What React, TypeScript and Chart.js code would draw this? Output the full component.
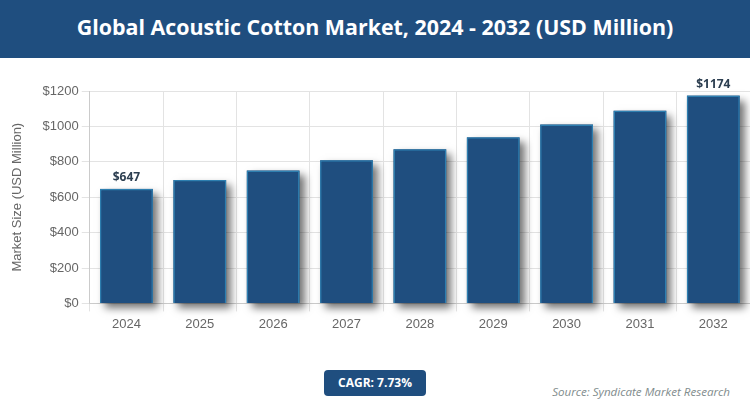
import React, { useEffect, useRef } from 'react';
import { Chart, ChartConfiguration, registerables } from 'chart.js';

Chart.register(...registerables);

const years = ['2024', '2025', '2026', '2027', '2028', '2029', '2030', '2031', '2032'];
const marketSize = [647, 697, 751, 809, 871, 938, 1011, 1089, 1174];
const labelledYears = ['2024', '2032'];

const NAVY = '#1f4e7f';

// the bar element clips to its own box, so the shadow is painted underneath it
const barShadow = {
  id: 'barShadow',
  beforeDatasetDraw(chart: Chart) {
    const ctx = chart.ctx;
    ctx.save();
    ctx.shadowColor = 'rgba(0,0,0,0.55)';
    ctx.shadowBlur = 8;
    ctx.shadowOffsetX = 5;
    ctx.shadowOffsetY = 5;
    ctx.fillStyle = NAVY;
    chart.getDatasetMeta(0).data.forEach((el) => {
      const { x, y, base, width } = el.getProps(['x', 'y', 'base', 'width'], true) as any;
      ctx.fillRect(x - width / 2, y, width, base - y);
    });
    ctx.restore();
  },
};

const endLabels = {
  id: 'endLabels',
  afterDatasetsDraw(chart: Chart) {
    const ctx = chart.ctx;
    const bars = chart.getDatasetMeta(0).data;
    ctx.save();
    ctx.font = '700 12px "Open Sans", sans-serif';
    ctx.fillStyle = '#2c3e50';
    ctx.textAlign = 'center';
    ctx.textBaseline = 'bottom';
    bars.forEach((bar, i) => {
      if (labelledYears.includes(years[i])) {
        ctx.fillText('$' + marketSize[i], bar.x, bar.y - 5);
      }
    });
    ctx.restore();
  },
};

export default function App() {
  const chartRef = useRef<HTMLCanvasElement | null>(null);

  useEffect(() => {
    document.body.style.margin = '0';
    if (!chartRef.current) return;

    const config: ChartConfiguration = {
      type: 'bar',
      data: {
        labels: years,
        datasets: [{
          label: 'Market Size',
          data: marketSize,
          backgroundColor: NAVY,
          borderColor: '#2e7fb0',
          borderWidth: 1.5,
          barPercentage: 0.8,
          categoryPercentage: 0.9,
        }],
      },
      options: {
        responsive: false,
        animation: false,
        layout: { padding: { top: 33, left: 6, right: 0, bottom: 0 } },
        plugins: {
          legend: { display: false },
          tooltip: { enabled: false },
        },
        scales: {
          x: {
            grid: { color: '#e3e3e3' },
            ticks: { color: '#666', padding: 5, font: { family: '"Liberation Sans"', size: 13 } },
          },
          y: {
            min: 0,
            max: 1200,
            ticks: {
              stepSize: 200,
              color: '#666',
              font: { family: '"Liberation Sans"', size: 13 },
              callback: (v) => '$' + v,
            },
            grid: { color: '#e3e3e3' },
            title: {
              display: true,
              text: 'Market Size (USD Million)',
              color: '#666',
              padding: { top: 4, bottom: 14 },
              font: { family: '"Liberation Sans"', size: 13 },
            },
          },
        },
      },
      plugins: [barShadow, endLabels],
    };

    const chart = new Chart(chartRef.current, config);
    return () => chart.destroy();
  }, []);

  return (
    <div style={{ position: 'relative', width: 750, height: 417, background: '#fff', overflow: 'hidden' }}>
      <div
        style={{
          height: 58,
          background: NAVY,
          color: '#fff',
          textAlign: 'center',
          font: '700 21.4px/54px "Open Sans", sans-serif',
        }}
      >
        Global Acoustic Cotton Market, 2024 - 2032 (USD Million)
      </div>
      <canvas ref={chartRef} width={750} height={279} style={{ position: 'absolute', left: 0, top: 58 }} />
      <div
        style={{
          position: 'absolute',
          left: 324,
          top: 370,
          width: 102,
          height: 26,
          borderRadius: 4,
          background: NAVY,
          color: '#fff',
          textAlign: 'center',
          font: '700 12px/26px "Open Sans", sans-serif',
        }}
      >
        CAGR: 7.73%
      </div>
      <div
        style={{
          position: 'absolute',
          right: 20,
          top: 384,
          color: '#7f8c8d',
          font: 'italic 11.6px/16px "Open Sans", sans-serif',
        }}
      >
        Source: Syndicate Market Research
      </div>
    </div>
  );
}
